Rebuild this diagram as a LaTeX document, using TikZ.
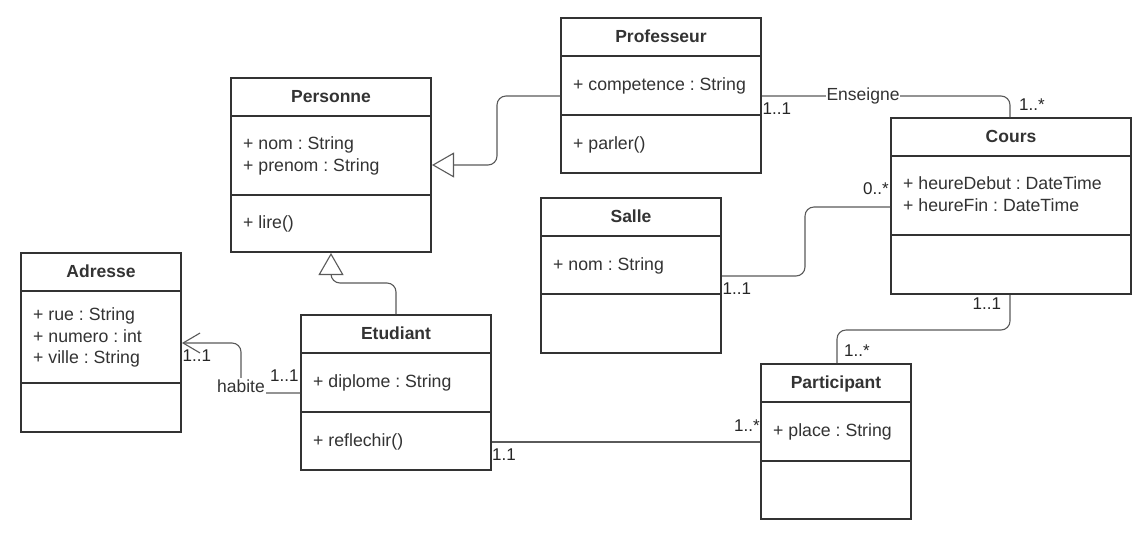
\documentclass[tikz,border=0pt]{standalone}
\usepackage{fontspec}
\setmainfont{Liberation Sans}
\usetikzlibrary{arrows.meta}
\definecolor{ink}{HTML}{333333}
\definecolor{wire}{HTML}{5A5A5A}
\tikzset{
  clsbox/.style={draw=ink, line width=2pt, fill=white, inner sep=0pt},
  divider/.style={draw=ink, line width=2pt},
  ctitle/.style={anchor=base, inner sep=0pt, text=ink, font=\bfseries\fontsize{17.5}{21}\selectfont},
  member/.style={anchor=base west, inner sep=0pt, text=ink, font=\fontsize{17.7}{21}\selectfont},
  mult/.style={anchor=base west, inner sep=0pt, text=black!85, font=\fontsize{17}{20}\selectfont},
  wirelabel/.style={anchor=base, inner xsep=1pt, inner ysep=2pt, fill=white, text=ink, font=\fontsize{17.5}{21}\selectfont},
  conn/.style={draw=wire, line width=1.1pt, rounded corners=9pt},
  gen/.style={conn, -{Triangle[length=22pt, width=25pt, fill=white]}},
  nav/.style={conn, -{Straight Barb[length=17pt, width=20pt, line width=1.1pt]}}
}
\begin{document}
\frenchspacing
\begin{tikzpicture}[x=1pt, y=-1pt]
\useasboundingbox (0,0) rectangle (1148,539);
\fill[white] (0,0) rectangle (1148,539);

% ---------- Professeur ----------
\node[clsbox, minimum width=200pt, minimum height=155pt] (prof) at (661,95.5) {};
\draw[divider] (prof.west |- 0,56) -- (prof.east |- 0,56);
\draw[divider] (prof.west |- 0,115) -- (prof.east |- 0,115);
\node[ctitle] (profT) at (661,42) {Professeur};
\node[member] (profA) at (573,90.5) {+ competence : String};
\node[member] (profM) at (573,149) {+ parler()};

% ---------- Personne ----------
\node[clsbox, minimum width=200pt, minimum height=174pt] (pers) at (331,165) {};
\draw[divider] (pers.west |- 0,116) -- (pers.east |- 0,116);
\draw[divider] (pers.west |- 0,195) -- (pers.east |- 0,195);
\node[ctitle] (persT) at (331,102) {Personne};
\node[member] (persA1) at (243,149.75) {+ nom : String};
\node[member] (persA2) at (243,171.25) {+ prenom : String};
\node[member] (persM) at (243,228.5) {+ lire()};

% ---------- Adresse ----------
\node[clsbox, minimum width=160pt, minimum height=179pt] (adr) at (101,342.5) {};
\draw[divider] (adr.west |- 0,291) -- (adr.east |- 0,291);
\draw[divider] (adr.west |- 0,383) -- (adr.east |- 0,383);
\node[ctitle] (adrT) at (101,277) {Adresse};
\node[member] (adrA1) at (33,320.5) {+ rue : String};
\node[member] (adrA2) at (33,342) {+ numero : int};
\node[member] (adrA3) at (33,363.5) {+ ville : String};

% ---------- Etudiant ----------
\node[clsbox, minimum width=190pt, minimum height=155pt] (etud) at (396,392.5) {};
\draw[divider] (etud.west |- 0,353) -- (etud.east |- 0,353);
\draw[divider] (etud.west |- 0,412) -- (etud.east |- 0,412);
\node[ctitle] (etudT) at (396,339) {Etudiant};
\node[member] (etudA) at (313,387.5) {+ diplome : String};
\node[member] (etudM) at (313,446) {+ reflechir()};

% ---------- Salle ----------
\node[clsbox, minimum width=180pt, minimum height=155pt] (salle) at (631,275.5) {};
\draw[divider] (salle.west |- 0,236) -- (salle.east |- 0,236);
\draw[divider] (salle.west |- 0,294) -- (salle.east |- 0,294);
\node[ctitle] (salleT) at (631,222) {Salle};
\node[member] (salleA) at (553,270) {+ nom : String};

% ---------- Cours ----------
\node[clsbox, minimum width=240pt, minimum height=176pt] (cours) at (1011,206) {};
\draw[divider] (cours.west |- 0,156) -- (cours.east |- 0,156);
\draw[divider] (cours.west |- 0,235) -- (cours.east |- 0,235);
\node[ctitle] (coursT) at (1011,142) {Cours};
\node[member] (coursA1) at (903,189.75) {+ heureDebut : DateTime};
\node[member] (coursA2) at (903,211.25) {+ heureFin : DateTime};

% ---------- Participant ----------
\node[clsbox, minimum width=150pt, minimum height=155pt] (part) at (836,441.5) {};
\draw[divider] (part.west |- 0,402) -- (part.east |- 0,402);
\draw[divider] (part.west |- 0,461) -- (part.east |- 0,461);
\node[ctitle] (partT) at (836,388) {Participant};
\node[member] (partA) at (773,436.5) {+ place : String};

% ---------- connectors ----------
\draw[gen] (prof.west |- 0,96) -- (497,96) -- (497,165) -- (pers.east |- 0,165);
\draw[gen] (etud.north -| 396,0) -- (396,283) -- (331,283) -- (pers.south -| 331,0);

\draw[nav] (etud.west |- 0,393) -- (241,393) -- (241,343) -- (adr.east |- 0,343);
\node[wirelabel] (habite) at (241,392.5) {habite};
\node[mult] (m1) at (182.5,361.5) {1..1};
\node[mult] (m2) at (270,381.5) {1..1};

\draw[conn] (prof.east |- 0,96) -- (1010,96) -- (cours.north -| 1010,0);
\node[wirelabel] (ens) at (863,100) {Enseigne};
\node[mult] (m3) at (762.5,114) {1..1};
\node[mult] (m4) at (1019,110) {1..*};

\draw[conn] (salle.east |- 0,276) -- (805,276) -- (805,207) -- (cours.west |- 0,207);
\node[mult] (m5) at (863,194) {0..*};
\node[mult] (m6) at (722.5,294) {1..1};

\draw[conn] (cours.south -| 1010,0) -- (1010,330) -- (837,330) -- (part.north -| 837,0);
\node[mult] (m7) at (972.5,309) {1..1};
\node[mult] (m8) at (844,356.5) {1..*};

\draw[conn] (etud.east |- 0,442) -- (part.west |- 0,442);
\node[mult] (m9) at (492,460) {1.1};
\node[mult] (m10) at (734,431) {1..*};
\end{tikzpicture}
\end{document}
